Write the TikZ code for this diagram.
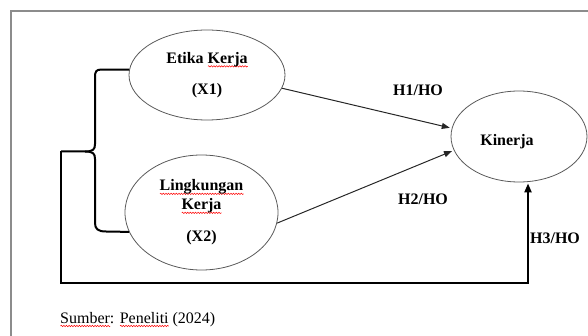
\documentclass[tikz,border=0pt]{standalone}
\usepackage{fontspec}
\setmainfont{Liberation Serif}
\usetikzlibrary{arrows.meta,shapes.geometric,decorations.pathmorphing}
\newcommand\redwave[1]{\setbox0\hbox{#1}\rlap{\smash{\tikz[x=1pt,y=1pt,baseline=0pt]\draw[red, line width=0.5pt, decorate, decoration={snake, amplitude=0.7pt, segment length=2.6pt}] (0,-3) -- (\the\wd0,-3);}}\box0\relax}
\tikzset{
  var/.style={ellipse, draw=black!65, line width=0.8pt, inner sep=0pt, align=center,
    font=\fontsize{16}{19}\selectfont\bfseries},
  lbl/.style={font=\fontsize{16}{19}\selectfont\bfseries, inner sep=0pt},
  conn/.style={draw=black!85, line width=1pt, -{Triangle[length=8pt,width=6pt]}},
  thick conn/.style={draw=black, line width=2pt},
  frame/.style={draw=black!45, line width=1.6pt}
}
\begin{document}
\begin{tikzpicture}[x=1pt,y=-1pt]
\useasboundingbox (0,0) rectangle (588,336);
\draw[frame] (11,340) -- (11,11) -- (592,11);
% nodes
\node[var, minimum width=156pt, minimum height=90pt] (e1) at (207,75)
  {Etika \redwave{Kerja}\\[12pt](X1)};
\node[var, minimum width=153pt, minimum height=115pt] (e2) at (201.5,212.5)
  {\redwave{Lingkungan}\\\redwave{Kerja}\\[13pt](X2)};
\node[var, minimum width=136pt, minimum height=91pt] (kin) at (519,136.5) {};
\node[lbl] (kintext) at (507,142) {Kinerja};
% labels
\node[lbl] (h1) at (418,90) {H1/HO};
\node[lbl] (h2) at (423,199) {H2/HO};
\node[lbl] (h3) at (555,238) {H3/HO};
% connectors
\draw[conn, shorten >=2pt] (e1.-10) -- (kin.173);
\draw[conn, shorten >=2pt] (e2.-8) -- (kin.-168);
\coordinate (tip) at (61,151.5);
\coordinate (corner) at (528,283);
\draw[thick conn] (e1.176) -- (e1.176 -| 101,0) .. controls ++(-5,0) and (95,72) .. (95,77) -- (95,144)
  .. controls (95,149.5) and (93,151.5) .. (85,151.5) -- (tip);
\draw[thick conn] (85,151.5) .. controls (93,151.5) and (95,153.5) .. (95,159) -- (95,223)
  .. controls (95,229) and (98,231.5) .. (106,231.5) -- (e2.195);
\draw[thick conn, -{Triangle[length=9pt,width=7pt]}, shorten >=1pt] (tip) |- (corner) -- (corner |- kin.south);
% source
\node[anchor=base west, inner sep=0pt, font=\fontsize{16}{19}\selectfont] (src) at (60,323)
  {\redwave{Sumber}: \redwave{Peneliti} (2024)};
\end{tikzpicture}
\end{document}
